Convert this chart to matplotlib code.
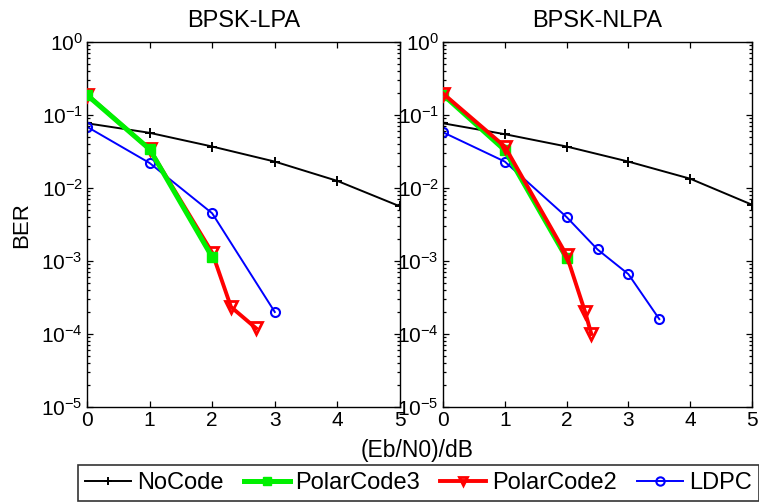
import matplotlib
matplotlib.use("Agg")
import matplotlib.pyplot as plt
from matplotlib.ticker import LogLocator, NullFormatter

plt.rcParams['font.family'] = ['Liberation Sans', 'DejaVu Sans']
plt.rcParams['axes.unicode_minus'] = False

# ---- data: left panel (BPSK-LPA) ----
lpa_nocode_x = [0, 1, 2, 3, 4, 5]
lpa_nocode_y = [0.077, 0.057, 0.037, 0.023, 0.0125, 0.0056]
lpa_polar3_x = [0, 1, 2]
lpa_polar3_y = [0.188, 0.034, 0.00113]
lpa_polar2_x = [0, 1, 2, 2.3, 2.7]
lpa_polar2_y = [0.19, 0.034, 0.0013, 2.35e-4, 1.2e-4]
lpa_ldpc_x = [0, 1, 2, 3]
lpa_ldpc_y = [0.069, 0.022, 0.0045, 2.0e-4]

# ---- data: right panel (BPSK-NLPA) ----
nlpa_nocode_x = [0, 1, 2, 3, 4, 5]
nlpa_nocode_y = [0.077, 0.0546, 0.037, 0.023, 0.0134, 0.0059]
nlpa_polar3_x = [0, 1, 2]
nlpa_polar3_y = [0.19, 0.033, 0.0011]
nlpa_polar2_x = [0, 1, 2, 2.3, 2.4]
nlpa_polar2_y = [0.197, 0.037, 0.0012, 2.0e-4, 1.0e-4]
nlpa_ldpc_x = [0, 1, 2, 2.5, 3, 3.5]
nlpa_ldpc_y = [0.058, 0.023, 0.004, 0.00144, 6.6e-4, 1.6e-4]

titles = ['BPSK-LPA', 'BPSK-NLPA']
series_names = ['NoCode', 'PolarCode3', 'PolarCode2', 'LDPC']
xticks = [0, 1, 2, 3, 4, 5]

W, H = 759, 503
fig = plt.figure(figsize=(W / 100, H / 100), dpi=100)

ax_rects = [
    (87 / W, 1 - 407 / H, (400 - 87) / W, (407 - 42) / H),
    (443 / W, 1 - 407 / H, (752 - 443) / W, (407 - 42) / H),
]

data = [
    (lpa_nocode_x, lpa_nocode_y, lpa_polar3_x, lpa_polar3_y,
     lpa_polar2_x, lpa_polar2_y, lpa_ldpc_x, lpa_ldpc_y),
    (nlpa_nocode_x, nlpa_nocode_y, nlpa_polar3_x, nlpa_polar3_y,
     nlpa_polar2_x, nlpa_polar2_y, nlpa_ldpc_x, nlpa_ldpc_y),
]

GREEN = '#00f000'
handles = None
for i, rect in enumerate(ax_rects):
    ax = fig.add_axes(rect)
    nx, ny, p3x, p3y, p2x, p2y, lx, ly = data[i]
    h1, = ax.plot(nx, ny, color='black', lw=1.4, marker='+', ms=7, mew=1.4,
                  zorder=2)
    h2, = ax.plot(p3x, p3y, color=GREEN, lw=3.6, marker='s', ms=7.5,
                  mfc=GREEN, mec=GREEN, zorder=4 if i == 0 else 3)
    h3, = ax.plot(p2x, p2y, color='red', lw=2.8, marker='v', ms=9,
                  mfc='none', mec='red', mew=2, zorder=3 if i == 0 else 4)
    h4, = ax.plot(lx, ly, color='blue', lw=1.4, marker='o', ms=6.5,
                  mfc='none', mec='blue', mew=1.5, zorder=2.5)
    handles = [h1, h2, h3, h4]
    ax.set_yscale('log')
    ax.set_xlim(0, 5)
    ax.set_ylim(1e-5, 1)
    ax.set_xticks(xticks)
    ax.yaxis.set_major_locator(LogLocator(base=10, numticks=10))
    ax.yaxis.set_minor_locator(LogLocator(base=10, subs=range(2, 10), numticks=20))
    ax.yaxis.set_minor_formatter(NullFormatter())
    ax.tick_params(which='both', direction='in', top=True, right=True,
                   labelsize=15, width=0.9)
    ax.tick_params(which='major', length=4.5, pad=3)
    ax.tick_params(which='minor', length=2.2)
    for s in ax.spines.values():
        s.set_linewidth(1.0)
    ax.set_title(titles[i], fontsize=17, pad=11)

fig.text(22 / W, 1 - 225.5 / H, 'BER', rotation=90, fontsize=16,
         ha='center', va='center')
fig.text(417.5 / W, 1 - 450 / H, '(Eb/N0)/dB', fontsize=16.5,
         ha='center', va='center')

leg = fig.legend(handles, series_names, loc='lower left',
                 bbox_to_anchor=(78 / W, 2 / H), ncol=4, fontsize=17,
                 frameon=True, fancybox=False, edgecolor='black',
                 handlelength=1.95, handletextpad=0.25, columnspacing=0.85,
                 borderpad=0.3, borderaxespad=0)
leg.get_frame().set_linewidth(1.2)
for lh in leg.legend_handles:
    lh.set_markersize(6)

fig.savefig('out.png', dpi=100)
